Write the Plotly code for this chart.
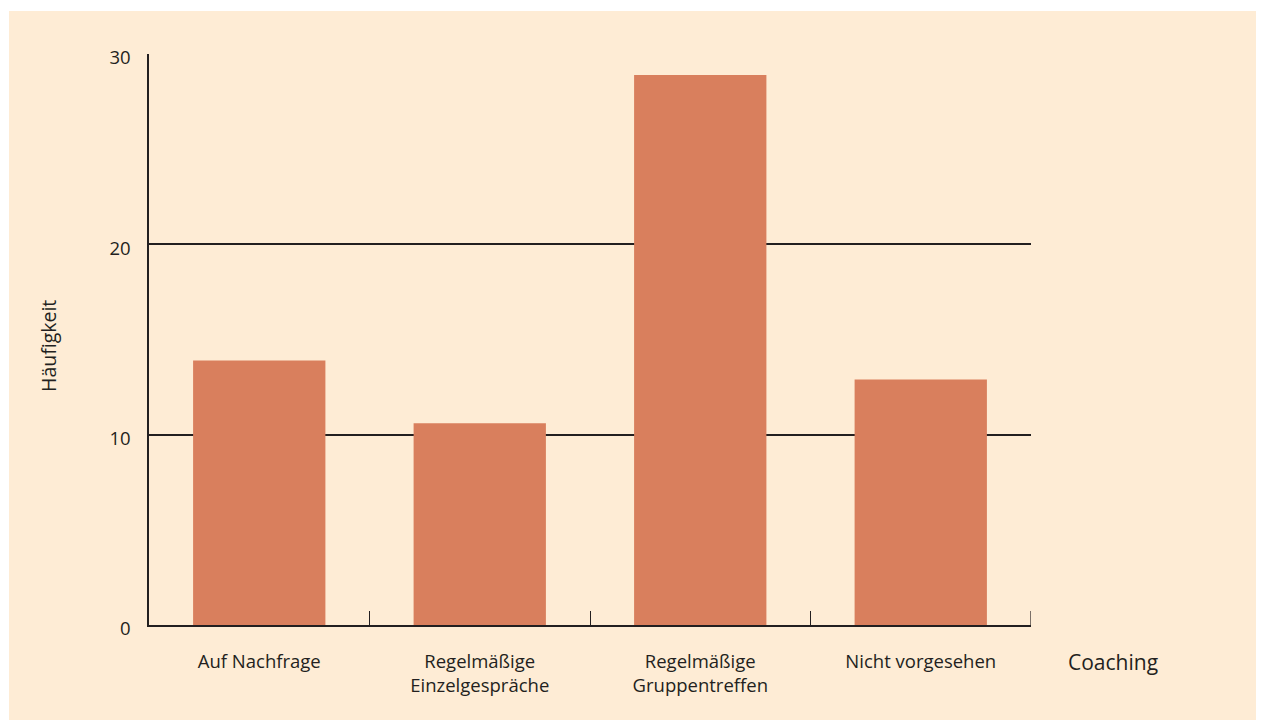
import plotly.graph_objects as go

categories = ["Auf Nachfrage", "Regelmäßige<br>Einzelgespräche", "Regelmäßige<br>Gruppentreffen", "Nicht vorgesehen"]
values = [13.9, 10.6, 28.9, 12.9]
y_ticks = [0, 10, 20, 30]
x_title = "Coaching"
y_title = "Häufigkeit"

CREAM = "#FEECD5"
BAR = "#D97F5D"
INK = "#231F20"
FONT = "Open Sans"

fig = go.Figure(go.Bar(x=categories, y=values, marker=dict(color=BAR, line=dict(width=0)),
                       hoverinfo="skip"))

# figure coordinates (page is offset by the 8px body margin)
L, R, T, B = 141, 1264 - 1023, 46, 722 - 617
pw, ph = 1264 - L - R, 722 - T - B
last_edge = len(categories) - 0.5

fig.update_layout(
    width=1264, height=722,
    margin=dict(l=L, r=R, t=T, b=B, pad=0),
    paper_bgcolor="white", plot_bgcolor="rgba(0,0,0,0)",
    bargap=0.4, showlegend=False,
    font=dict(family=FONT, size=18.5, color=INK),
    xaxis=dict(range=[-0.5, last_edge], showline=True, linecolor=INK, linewidth=1.5, ticks="inside",
               tickson="boundaries", ticklen=14, tickwidth=1.2, tickcolor=INK, showgrid=False,
               zeroline=False, tickfont=dict(size=18.5, color=INK), ticklabelstandoff=19),
    yaxis=dict(range=[0, 30], tickvals=y_ticks, showline=True, linecolor=INK, linewidth=1.5,
               ticks="", showgrid=True, gridcolor=INK, gridwidth=1.5, zeroline=False,
               tickfont=dict(size=18.5, color=INK), ticklabelstandoff=13, ticklabelshift=4),
    shapes=[
        dict(type="rect", xref="paper", yref="paper", layer="below",
             x0=(1 - L) / pw, x1=(1249 - L) / pw,
             y0=(617 - 712) / ph, y1=(617 - 3) / ph,
             fillcolor=CREAM, line=dict(width=0)),
        # closing boundary tick at the right end of the category axis
        dict(type="line", xref="x", yref="y", x0=last_edge, x1=last_edge,
             ysizemode="pixel", yanchor=0, y0=0, y1=14, line=dict(color=INK, width=1.2)),
    ],
    annotations=[
        dict(text=y_title, xref="paper", yref="paper", x=0, y=(617 - 338) / ph, xshift=-100,
             xanchor="center", yanchor="middle", textangle=-90, showarrow=False,
             font=dict(size=19.5, color=INK)),
        dict(text=x_title, xref="paper", yref="paper", x=1, y=0, xshift=82, yshift=-37,
             xanchor="center", yanchor="middle", showarrow=False,
             font=dict(size=21, color=INK)),
    ],
)

fig.write_html("out.html")
